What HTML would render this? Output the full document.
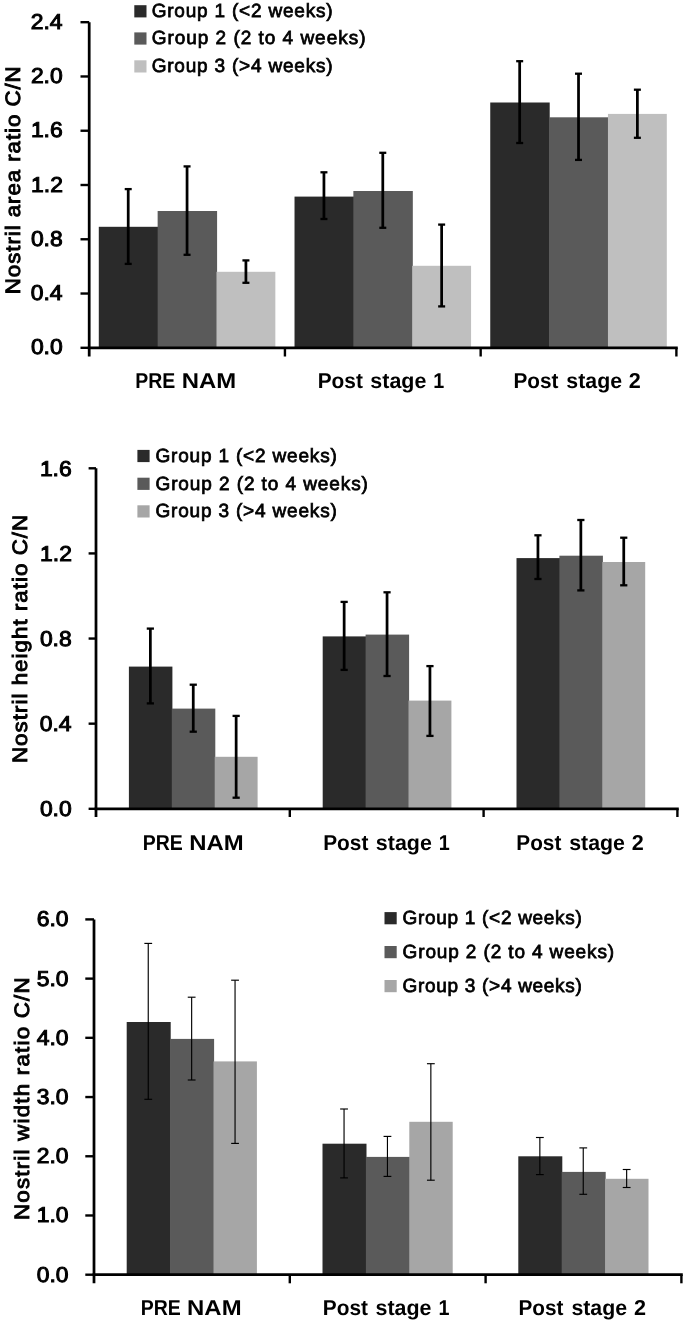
<!DOCTYPE html>
<html><head><meta charset="utf-8"><style>
html,body{margin:0;padding:0;background:#fff;}
svg{display:block;will-change:transform;font-family:"Liberation Sans", sans-serif;text-rendering:geometricPrecision;}
</style></head><body>
<svg width="685" height="1323" viewBox="0 0 685 1323">
<rect width="685" height="1323" fill="#fff"/>
<rect x="98.79" y="226.80" width="59.45" height="121.00" fill="#2a2a2a"/>
<rect x="157.64" y="211.00" width="59.45" height="136.80" fill="#5a5a5a"/>
<rect x="216.49" y="271.80" width="58.85" height="76.00" fill="#bfbfbf"/>
<rect x="294.52" y="196.60" width="59.45" height="151.20" fill="#2a2a2a"/>
<rect x="353.37" y="191.00" width="59.45" height="156.80" fill="#5a5a5a"/>
<rect x="412.22" y="265.80" width="58.85" height="82.00" fill="#bfbfbf"/>
<rect x="490.25" y="102.50" width="59.45" height="245.30" fill="#2a2a2a"/>
<rect x="549.10" y="117.30" width="59.45" height="230.50" fill="#5a5a5a"/>
<rect x="607.95" y="113.90" width="58.85" height="233.90" fill="#bfbfbf"/>
<line x1="128.22" y1="189.10" x2="128.22" y2="263.90" stroke="#000" stroke-width="2.75"/>
<line x1="124.72" y1="189.10" x2="131.72" y2="189.10" stroke="#000" stroke-width="2.3"/>
<line x1="124.72" y1="263.90" x2="131.72" y2="263.90" stroke="#000" stroke-width="2.3"/>
<line x1="187.06" y1="166.40" x2="187.06" y2="254.80" stroke="#000" stroke-width="2.75"/>
<line x1="183.56" y1="166.40" x2="190.56" y2="166.40" stroke="#000" stroke-width="2.3"/>
<line x1="183.56" y1="254.80" x2="190.56" y2="254.80" stroke="#000" stroke-width="2.3"/>
<line x1="245.92" y1="260.40" x2="245.92" y2="282.80" stroke="#000" stroke-width="2.75"/>
<line x1="242.42" y1="260.40" x2="249.42" y2="260.40" stroke="#000" stroke-width="2.3"/>
<line x1="242.42" y1="282.80" x2="249.42" y2="282.80" stroke="#000" stroke-width="2.3"/>
<line x1="323.94" y1="172.30" x2="323.94" y2="219.00" stroke="#000" stroke-width="2.75"/>
<line x1="320.44" y1="172.30" x2="327.44" y2="172.30" stroke="#000" stroke-width="2.3"/>
<line x1="320.44" y1="219.00" x2="327.44" y2="219.00" stroke="#000" stroke-width="2.3"/>
<line x1="382.79" y1="152.80" x2="382.79" y2="227.80" stroke="#000" stroke-width="2.75"/>
<line x1="379.29" y1="152.80" x2="386.29" y2="152.80" stroke="#000" stroke-width="2.3"/>
<line x1="379.29" y1="227.80" x2="386.29" y2="227.80" stroke="#000" stroke-width="2.3"/>
<line x1="441.64" y1="224.60" x2="441.64" y2="306.40" stroke="#000" stroke-width="2.75"/>
<line x1="438.14" y1="224.60" x2="445.14" y2="224.60" stroke="#000" stroke-width="2.3"/>
<line x1="438.14" y1="306.40" x2="445.14" y2="306.40" stroke="#000" stroke-width="2.3"/>
<line x1="519.67" y1="61.20" x2="519.67" y2="143.00" stroke="#000" stroke-width="2.75"/>
<line x1="516.17" y1="61.20" x2="523.17" y2="61.20" stroke="#000" stroke-width="2.3"/>
<line x1="516.17" y1="143.00" x2="523.17" y2="143.00" stroke="#000" stroke-width="2.3"/>
<line x1="578.52" y1="73.70" x2="578.52" y2="159.90" stroke="#000" stroke-width="2.75"/>
<line x1="575.02" y1="73.70" x2="582.02" y2="73.70" stroke="#000" stroke-width="2.3"/>
<line x1="575.02" y1="159.90" x2="582.02" y2="159.90" stroke="#000" stroke-width="2.3"/>
<line x1="637.38" y1="89.70" x2="637.38" y2="137.80" stroke="#000" stroke-width="2.75"/>
<line x1="633.88" y1="89.70" x2="640.88" y2="89.70" stroke="#000" stroke-width="2.3"/>
<line x1="633.88" y1="137.80" x2="640.88" y2="137.80" stroke="#000" stroke-width="2.3"/>
<line x1="89.20" y1="22.20" x2="89.20" y2="356.50" stroke="#000" stroke-width="2.75"/>
<line x1="87.83" y1="347.80" x2="677.76" y2="347.80" stroke="#000" stroke-width="2.75"/>
<line x1="80.50" y1="22.20" x2="89.20" y2="22.20" stroke="#000" stroke-width="2.4"/>
<line x1="80.50" y1="76.47" x2="89.20" y2="76.47" stroke="#000" stroke-width="2.4"/>
<line x1="80.50" y1="130.73" x2="89.20" y2="130.73" stroke="#000" stroke-width="2.4"/>
<line x1="80.50" y1="185.00" x2="89.20" y2="185.00" stroke="#000" stroke-width="2.4"/>
<line x1="80.50" y1="239.27" x2="89.20" y2="239.27" stroke="#000" stroke-width="2.4"/>
<line x1="80.50" y1="293.53" x2="89.20" y2="293.53" stroke="#000" stroke-width="2.4"/>
<line x1="80.50" y1="347.80" x2="89.20" y2="347.80" stroke="#000" stroke-width="2.4"/>
<line x1="284.93" y1="347.80" x2="284.93" y2="356.50" stroke="#000" stroke-width="2.4"/>
<line x1="480.66" y1="347.80" x2="480.66" y2="356.50" stroke="#000" stroke-width="2.4"/>
<line x1="676.39" y1="347.80" x2="676.39" y2="356.50" stroke="#000" stroke-width="2.4"/>
<rect x="134.30" y="5.20" width="12.20" height="12.20" fill="#2a2a2a"/>
<rect x="134.30" y="32.40" width="12.20" height="12.20" fill="#5a5a5a"/>
<rect x="134.30" y="60.30" width="12.20" height="12.20" fill="#bfbfbf"/>
<rect x="128.90" y="666.60" width="43.50" height="142.20" fill="#2a2a2a"/>
<rect x="171.80" y="708.60" width="43.50" height="100.20" fill="#5a5a5a"/>
<rect x="214.70" y="756.80" width="42.90" height="52.00" fill="#a6a6a6"/>
<rect x="322.70" y="636.40" width="43.50" height="172.40" fill="#2a2a2a"/>
<rect x="365.60" y="634.60" width="43.50" height="174.20" fill="#5a5a5a"/>
<rect x="408.50" y="700.60" width="42.90" height="108.20" fill="#a6a6a6"/>
<rect x="516.50" y="558.10" width="43.50" height="250.70" fill="#2a2a2a"/>
<rect x="559.40" y="555.70" width="43.50" height="253.10" fill="#5a5a5a"/>
<rect x="602.30" y="562.00" width="42.90" height="246.80" fill="#a6a6a6"/>
<line x1="150.35" y1="628.60" x2="150.35" y2="703.40" stroke="#000" stroke-width="2.75"/>
<line x1="146.75" y1="628.60" x2="153.95" y2="628.60" stroke="#000" stroke-width="2.3"/>
<line x1="146.75" y1="703.40" x2="153.95" y2="703.40" stroke="#000" stroke-width="2.3"/>
<line x1="193.25" y1="684.70" x2="193.25" y2="731.70" stroke="#000" stroke-width="2.75"/>
<line x1="189.65" y1="684.70" x2="196.85" y2="684.70" stroke="#000" stroke-width="2.3"/>
<line x1="189.65" y1="731.70" x2="196.85" y2="731.70" stroke="#000" stroke-width="2.3"/>
<line x1="236.15" y1="715.90" x2="236.15" y2="797.70" stroke="#000" stroke-width="2.75"/>
<line x1="232.55" y1="715.90" x2="239.75" y2="715.90" stroke="#000" stroke-width="2.3"/>
<line x1="232.55" y1="797.70" x2="239.75" y2="797.70" stroke="#000" stroke-width="2.3"/>
<line x1="344.15" y1="601.90" x2="344.15" y2="669.90" stroke="#000" stroke-width="2.75"/>
<line x1="340.55" y1="601.90" x2="347.75" y2="601.90" stroke="#000" stroke-width="2.3"/>
<line x1="340.55" y1="669.90" x2="347.75" y2="669.90" stroke="#000" stroke-width="2.3"/>
<line x1="387.05" y1="592.30" x2="387.05" y2="676.00" stroke="#000" stroke-width="2.75"/>
<line x1="383.45" y1="592.30" x2="390.65" y2="592.30" stroke="#000" stroke-width="2.3"/>
<line x1="383.45" y1="676.00" x2="390.65" y2="676.00" stroke="#000" stroke-width="2.3"/>
<line x1="429.95" y1="666.10" x2="429.95" y2="735.90" stroke="#000" stroke-width="2.75"/>
<line x1="426.35" y1="666.10" x2="433.55" y2="666.10" stroke="#000" stroke-width="2.3"/>
<line x1="426.35" y1="735.90" x2="433.55" y2="735.90" stroke="#000" stroke-width="2.3"/>
<line x1="537.95" y1="535.30" x2="537.95" y2="579.00" stroke="#000" stroke-width="2.75"/>
<line x1="534.35" y1="535.30" x2="541.55" y2="535.30" stroke="#000" stroke-width="2.3"/>
<line x1="534.35" y1="579.00" x2="541.55" y2="579.00" stroke="#000" stroke-width="2.3"/>
<line x1="580.85" y1="520.00" x2="580.85" y2="590.40" stroke="#000" stroke-width="2.75"/>
<line x1="577.25" y1="520.00" x2="584.45" y2="520.00" stroke="#000" stroke-width="2.3"/>
<line x1="577.25" y1="590.40" x2="584.45" y2="590.40" stroke="#000" stroke-width="2.3"/>
<line x1="623.75" y1="537.70" x2="623.75" y2="585.30" stroke="#000" stroke-width="2.75"/>
<line x1="620.15" y1="537.70" x2="627.35" y2="537.70" stroke="#000" stroke-width="2.3"/>
<line x1="620.15" y1="585.30" x2="627.35" y2="585.30" stroke="#000" stroke-width="2.3"/>
<line x1="96.00" y1="468.30" x2="96.00" y2="817.00" stroke="#000" stroke-width="2.75"/>
<line x1="94.62" y1="808.80" x2="678.78" y2="808.80" stroke="#000" stroke-width="2.75"/>
<line x1="88.60" y1="468.30" x2="96.00" y2="468.30" stroke="#000" stroke-width="2.4"/>
<line x1="88.60" y1="553.42" x2="96.00" y2="553.42" stroke="#000" stroke-width="2.4"/>
<line x1="88.60" y1="638.55" x2="96.00" y2="638.55" stroke="#000" stroke-width="2.4"/>
<line x1="88.60" y1="723.67" x2="96.00" y2="723.67" stroke="#000" stroke-width="2.4"/>
<line x1="88.60" y1="808.80" x2="96.00" y2="808.80" stroke="#000" stroke-width="2.4"/>
<line x1="289.80" y1="808.80" x2="289.80" y2="817.00" stroke="#000" stroke-width="2.4"/>
<line x1="483.60" y1="808.80" x2="483.60" y2="817.00" stroke="#000" stroke-width="2.4"/>
<line x1="677.40" y1="808.80" x2="677.40" y2="817.00" stroke="#000" stroke-width="2.4"/>
<rect x="137.40" y="449.90" width="12.20" height="12.20" fill="#2a2a2a"/>
<rect x="137.40" y="477.70" width="12.20" height="12.20" fill="#5a5a5a"/>
<rect x="137.40" y="505.30" width="12.20" height="12.20" fill="#a6a6a6"/>
<rect x="126.70" y="1022.00" width="44.00" height="252.70" fill="#2a2a2a"/>
<rect x="170.10" y="1038.90" width="44.00" height="235.80" fill="#5a5a5a"/>
<rect x="213.50" y="1061.40" width="43.40" height="213.30" fill="#a6a6a6"/>
<rect x="322.50" y="1143.70" width="44.00" height="131.00" fill="#2a2a2a"/>
<rect x="365.90" y="1156.90" width="44.00" height="117.80" fill="#5a5a5a"/>
<rect x="409.30" y="1121.80" width="43.40" height="152.90" fill="#a6a6a6"/>
<rect x="518.30" y="1156.30" width="44.00" height="118.40" fill="#2a2a2a"/>
<rect x="561.70" y="1171.90" width="44.00" height="102.80" fill="#5a5a5a"/>
<rect x="605.10" y="1178.80" width="43.40" height="95.90" fill="#a6a6a6"/>
<line x1="148.25" y1="943.40" x2="148.25" y2="1099.30" stroke="#000" stroke-width="1.15"/>
<line x1="144.35" y1="943.40" x2="152.15" y2="943.40" stroke="#000" stroke-width="1.15"/>
<line x1="144.35" y1="1099.30" x2="152.15" y2="1099.30" stroke="#000" stroke-width="1.15"/>
<line x1="191.65" y1="997.20" x2="191.65" y2="1080.00" stroke="#000" stroke-width="1.15"/>
<line x1="187.75" y1="997.20" x2="195.55" y2="997.20" stroke="#000" stroke-width="1.15"/>
<line x1="187.75" y1="1080.00" x2="195.55" y2="1080.00" stroke="#000" stroke-width="1.15"/>
<line x1="235.05" y1="980.20" x2="235.05" y2="1143.40" stroke="#000" stroke-width="1.15"/>
<line x1="231.15" y1="980.20" x2="238.95" y2="980.20" stroke="#000" stroke-width="1.15"/>
<line x1="231.15" y1="1143.40" x2="238.95" y2="1143.40" stroke="#000" stroke-width="1.15"/>
<line x1="344.05" y1="1109.00" x2="344.05" y2="1177.90" stroke="#000" stroke-width="1.15"/>
<line x1="340.15" y1="1109.00" x2="347.95" y2="1109.00" stroke="#000" stroke-width="1.15"/>
<line x1="340.15" y1="1177.90" x2="347.95" y2="1177.90" stroke="#000" stroke-width="1.15"/>
<line x1="387.45" y1="1136.40" x2="387.45" y2="1176.40" stroke="#000" stroke-width="1.15"/>
<line x1="383.55" y1="1136.40" x2="391.35" y2="1136.40" stroke="#000" stroke-width="1.15"/>
<line x1="383.55" y1="1176.40" x2="391.35" y2="1176.40" stroke="#000" stroke-width="1.15"/>
<line x1="430.85" y1="1063.70" x2="430.85" y2="1180.20" stroke="#000" stroke-width="1.15"/>
<line x1="426.95" y1="1063.70" x2="434.75" y2="1063.70" stroke="#000" stroke-width="1.15"/>
<line x1="426.95" y1="1180.20" x2="434.75" y2="1180.20" stroke="#000" stroke-width="1.15"/>
<line x1="539.85" y1="1137.50" x2="539.85" y2="1174.60" stroke="#000" stroke-width="1.15"/>
<line x1="535.95" y1="1137.50" x2="543.75" y2="1137.50" stroke="#000" stroke-width="1.15"/>
<line x1="535.95" y1="1174.60" x2="543.75" y2="1174.60" stroke="#000" stroke-width="1.15"/>
<line x1="583.25" y1="1147.90" x2="583.25" y2="1194.30" stroke="#000" stroke-width="1.15"/>
<line x1="579.35" y1="1147.90" x2="587.15" y2="1147.90" stroke="#000" stroke-width="1.15"/>
<line x1="579.35" y1="1194.30" x2="587.15" y2="1194.30" stroke="#000" stroke-width="1.15"/>
<line x1="626.65" y1="1169.50" x2="626.65" y2="1187.50" stroke="#000" stroke-width="1.15"/>
<line x1="622.75" y1="1169.50" x2="630.55" y2="1169.50" stroke="#000" stroke-width="1.15"/>
<line x1="622.75" y1="1187.50" x2="630.55" y2="1187.50" stroke="#000" stroke-width="1.15"/>
<line x1="94.00" y1="919.40" x2="94.00" y2="1283.30" stroke="#000" stroke-width="2.75"/>
<line x1="92.62" y1="1274.70" x2="682.78" y2="1274.70" stroke="#000" stroke-width="2.75"/>
<line x1="85.30" y1="919.40" x2="94.00" y2="919.40" stroke="#000" stroke-width="2.4"/>
<line x1="85.30" y1="978.62" x2="94.00" y2="978.62" stroke="#000" stroke-width="2.4"/>
<line x1="85.30" y1="1037.83" x2="94.00" y2="1037.83" stroke="#000" stroke-width="2.4"/>
<line x1="85.30" y1="1097.05" x2="94.00" y2="1097.05" stroke="#000" stroke-width="2.4"/>
<line x1="85.30" y1="1156.27" x2="94.00" y2="1156.27" stroke="#000" stroke-width="2.4"/>
<line x1="85.30" y1="1215.48" x2="94.00" y2="1215.48" stroke="#000" stroke-width="2.4"/>
<line x1="85.30" y1="1274.70" x2="94.00" y2="1274.70" stroke="#000" stroke-width="2.4"/>
<line x1="289.80" y1="1274.70" x2="289.80" y2="1283.30" stroke="#000" stroke-width="2.4"/>
<line x1="485.60" y1="1274.70" x2="485.60" y2="1283.30" stroke="#000" stroke-width="2.4"/>
<line x1="681.40" y1="1274.70" x2="681.40" y2="1283.30" stroke="#000" stroke-width="2.4"/>
<rect x="384.50" y="912.10" width="12.20" height="12.20" fill="#2a2a2a"/>
<rect x="384.50" y="946.00" width="12.20" height="12.20" fill="#5a5a5a"/>
<rect x="384.50" y="980.00" width="12.20" height="12.20" fill="#a6a6a6"/>
<text x="30.67" y="28.80" font-size="21.5" font-weight="normal" textLength="31.83" lengthAdjust="spacingAndGlyphs" stroke="#000" stroke-width="1.0">2.4</text>
<text x="30.90" y="83.07" font-size="21.5" font-weight="normal" textLength="31.83" lengthAdjust="spacingAndGlyphs" stroke="#000" stroke-width="1.0">2.0</text>
<text x="30.90" y="137.33" font-size="21.5" font-weight="normal" textLength="31.83" lengthAdjust="spacingAndGlyphs" stroke="#000" stroke-width="1.0">1.6</text>
<text x="31.13" y="191.60" font-size="21.5" font-weight="normal" textLength="31.83" lengthAdjust="spacingAndGlyphs" stroke="#000" stroke-width="1.0">1.2</text>
<text x="30.90" y="245.87" font-size="21.5" font-weight="normal" textLength="31.83" lengthAdjust="spacingAndGlyphs" stroke="#000" stroke-width="1.0">0.8</text>
<text x="30.67" y="300.13" font-size="21.5" font-weight="normal" textLength="31.83" lengthAdjust="spacingAndGlyphs" stroke="#000" stroke-width="1.0">0.4</text>
<text x="30.90" y="354.40" font-size="21.5" font-weight="normal" textLength="31.83" lengthAdjust="spacingAndGlyphs" stroke="#000" stroke-width="1.0">0.0</text>
<text x="39.90" y="475.50" font-size="21.5" font-weight="normal" textLength="31.83" lengthAdjust="spacingAndGlyphs" stroke="#000" stroke-width="1.0">1.6</text>
<text x="40.13" y="560.63" font-size="21.5" font-weight="normal" textLength="31.83" lengthAdjust="spacingAndGlyphs" stroke="#000" stroke-width="1.0">1.2</text>
<text x="39.90" y="645.75" font-size="21.5" font-weight="normal" textLength="31.83" lengthAdjust="spacingAndGlyphs" stroke="#000" stroke-width="1.0">0.8</text>
<text x="39.67" y="730.88" font-size="21.5" font-weight="normal" textLength="31.83" lengthAdjust="spacingAndGlyphs" stroke="#000" stroke-width="1.0">0.4</text>
<text x="39.90" y="816.00" font-size="21.5" font-weight="normal" textLength="31.83" lengthAdjust="spacingAndGlyphs" stroke="#000" stroke-width="1.0">0.0</text>
<text x="36.70" y="926.40" font-size="21.5" font-weight="normal" textLength="31.83" lengthAdjust="spacingAndGlyphs" stroke="#000" stroke-width="1.0">6.0</text>
<text x="36.70" y="985.62" font-size="21.5" font-weight="normal" textLength="31.83" lengthAdjust="spacingAndGlyphs" stroke="#000" stroke-width="1.0">5.0</text>
<text x="36.70" y="1044.83" font-size="21.5" font-weight="normal" textLength="31.83" lengthAdjust="spacingAndGlyphs" stroke="#000" stroke-width="1.0">4.0</text>
<text x="36.70" y="1104.05" font-size="21.5" font-weight="normal" textLength="31.83" lengthAdjust="spacingAndGlyphs" stroke="#000" stroke-width="1.0">3.0</text>
<text x="36.70" y="1163.27" font-size="21.5" font-weight="normal" textLength="31.83" lengthAdjust="spacingAndGlyphs" stroke="#000" stroke-width="1.0">2.0</text>
<text x="36.70" y="1222.48" font-size="21.5" font-weight="normal" textLength="31.83" lengthAdjust="spacingAndGlyphs" stroke="#000" stroke-width="1.0">1.0</text>
<text x="36.70" y="1281.70" font-size="21.5" font-weight="normal" textLength="31.83" lengthAdjust="spacingAndGlyphs" stroke="#000" stroke-width="1.0">0.0</text>
<text transform="rotate(-90) scale(1.07,1)" x="-274.94" y="20.00" font-size="20.8" font-weight="normal" letter-spacing="0.895" stroke="#000" stroke-width="0.9">Nostril area ratio C/N</text>
<text transform="rotate(-90) scale(1.07,1)" x="-713.16" y="27.00" font-size="20.8" font-weight="normal" letter-spacing="0.992" stroke="#000" stroke-width="0.9">Nostril height ratio C/N</text>
<text transform="rotate(-90) scale(1.07,1)" x="-1140.26" y="29.00" font-size="20.8" font-weight="normal" letter-spacing="1.168" stroke="#000" stroke-width="0.9">Nostril width ratio C/N</text>
<text x="151.65" y="17.00" font-size="19" font-weight="normal" letter-spacing="0.799" stroke="#000" stroke-width="0.75">Group 1 (&lt;2 weeks)</text>
<text x="151.65" y="44.20" font-size="19" font-weight="normal" letter-spacing="0.981" stroke="#000" stroke-width="0.75">Group 2 (2 to 4 weeks)</text>
<text x="151.65" y="72.00" font-size="19" font-weight="normal" letter-spacing="0.799" stroke="#000" stroke-width="0.75">Group 3 (&gt;4 weeks)</text>
<text x="155.45" y="462.20" font-size="19" font-weight="normal" letter-spacing="0.822" stroke="#000" stroke-width="0.75">Group 1 (&lt;2 weeks)</text>
<text x="155.45" y="489.80" font-size="19" font-weight="normal" letter-spacing="0.914" stroke="#000" stroke-width="0.75">Group 2 (2 to 4 weeks)</text>
<text x="155.45" y="517.40" font-size="19" font-weight="normal" letter-spacing="0.822" stroke="#000" stroke-width="0.75">Group 3 (&gt;4 weeks)</text>
<text x="402.55" y="923.60" font-size="19" font-weight="normal" letter-spacing="0.699" stroke="#000" stroke-width="0.75">Group 1 (&lt;2 weeks)</text>
<text x="402.55" y="957.50" font-size="19" font-weight="normal" letter-spacing="0.871" stroke="#000" stroke-width="0.75">Group 2 (2 to 4 weeks)</text>
<text x="402.55" y="991.50" font-size="19" font-weight="normal" letter-spacing="0.699" stroke="#000" stroke-width="0.75">Group 3 (&gt;4 weeks)</text>
<text x="135.23" y="388.00" font-size="21.6" font-weight="bold" textLength="40.09" lengthAdjust="spacingAndGlyphs">PRE</text>
<text x="181.67" y="388.00" font-size="21.6" font-weight="bold" textLength="54.44" lengthAdjust="spacingAndGlyphs">NAM</text>
<text x="317.65" y="388.00" font-size="21.6" font-weight="bold" textLength="45.21" lengthAdjust="spacingAndGlyphs">Post</text>
<text x="370.36" y="388.00" font-size="21.6" font-weight="bold" textLength="56.00" lengthAdjust="spacingAndGlyphs">stage</text>
<text x="433.31" y="388.00" font-size="21.6" font-weight="bold" textLength="11.00" lengthAdjust="spacingAndGlyphs">1</text>
<text x="513.45" y="388.00" font-size="21.6" font-weight="bold" textLength="45.01" lengthAdjust="spacingAndGlyphs">Post</text>
<text x="566.36" y="388.00" font-size="21.6" font-weight="bold" textLength="55.70" lengthAdjust="spacingAndGlyphs">stage</text>
<text x="628.85" y="388.00" font-size="21.6" font-weight="bold" textLength="12.03" lengthAdjust="spacingAndGlyphs">2</text>
<text x="142.78" y="849.60" font-size="21.6" font-weight="bold" textLength="40.09" lengthAdjust="spacingAndGlyphs">PRE</text>
<text x="189.22" y="849.60" font-size="21.6" font-weight="bold" textLength="54.44" lengthAdjust="spacingAndGlyphs">NAM</text>
<text x="323.15" y="849.60" font-size="21.6" font-weight="bold" textLength="45.21" lengthAdjust="spacingAndGlyphs">Post</text>
<text x="375.86" y="849.60" font-size="21.6" font-weight="bold" textLength="56.00" lengthAdjust="spacingAndGlyphs">stage</text>
<text x="438.81" y="849.60" font-size="21.6" font-weight="bold" textLength="11.00" lengthAdjust="spacingAndGlyphs">1</text>
<text x="516.30" y="849.60" font-size="21.6" font-weight="bold" textLength="45.01" lengthAdjust="spacingAndGlyphs">Post</text>
<text x="569.21" y="849.60" font-size="21.6" font-weight="bold" textLength="55.70" lengthAdjust="spacingAndGlyphs">stage</text>
<text x="631.70" y="849.60" font-size="21.6" font-weight="bold" textLength="12.03" lengthAdjust="spacingAndGlyphs">2</text>
<text x="140.68" y="1315.20" font-size="21.6" font-weight="bold" textLength="40.09" lengthAdjust="spacingAndGlyphs">PRE</text>
<text x="187.12" y="1315.20" font-size="21.6" font-weight="bold" textLength="54.44" lengthAdjust="spacingAndGlyphs">NAM</text>
<text x="322.80" y="1315.20" font-size="21.6" font-weight="bold" textLength="45.21" lengthAdjust="spacingAndGlyphs">Post</text>
<text x="375.51" y="1315.20" font-size="21.6" font-weight="bold" textLength="56.00" lengthAdjust="spacingAndGlyphs">stage</text>
<text x="438.46" y="1315.20" font-size="21.6" font-weight="bold" textLength="11.00" lengthAdjust="spacingAndGlyphs">1</text>
<text x="518.50" y="1315.20" font-size="21.6" font-weight="bold" textLength="45.01" lengthAdjust="spacingAndGlyphs">Post</text>
<text x="571.41" y="1315.20" font-size="21.6" font-weight="bold" textLength="55.70" lengthAdjust="spacingAndGlyphs">stage</text>
<text x="633.90" y="1315.20" font-size="21.6" font-weight="bold" textLength="12.03" lengthAdjust="spacingAndGlyphs">2</text>
</svg>
</body></html>
